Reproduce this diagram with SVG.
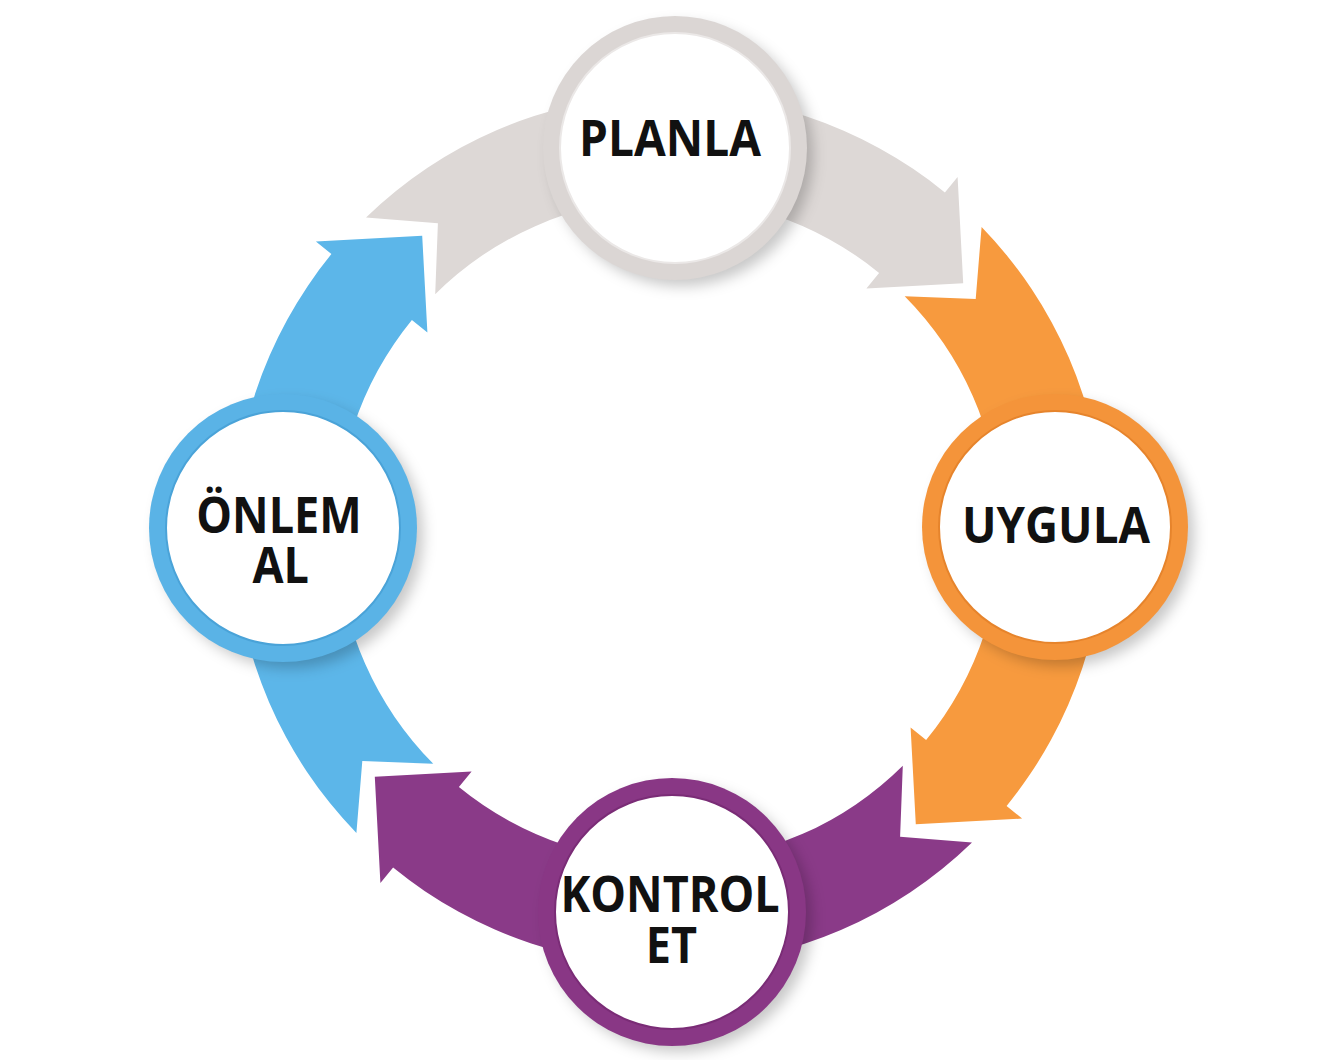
<svg xmlns="http://www.w3.org/2000/svg" width="1335" height="1060" viewBox="0 0 1335 1060">
  <defs>
    <path id="arrowShape" d="M366.0,217.4 L437.9,223.3 L435.2,294.3 A332,332 0 0 1 879.1,272.9 L866.4,288.4 L963.2,283.2 L957.6,176.9 L944.9,192.4 A436,436 0 0 0 366.0,217.4 Z"/>
    <filter id="shadow" x="-30%" y="-30%" width="160%" height="160%">
      <feGaussianBlur stdDeviation="7"/>
    </filter>
  </defs>
  <style>
    .lbl { font-family: "Open Sans", "DejaVu Sans", sans-serif; font-weight: 700; font-size: 50px; fill: #111; text-anchor: middle; }
    .shadow { fill: rgba(0,0,0,0.22); filter: url(#shadow); }
    .inner { fill: #ffffff; stroke-width: 2; }
  </style>
  <rect width="1335" height="1060" fill="#ffffff"/>

  <g id="connectors">
    <use href="#arrowShape" fill="#ddd8d6"/>
    <use href="#arrowShape" fill="#f79a3e" transform="rotate(90 669 530)"/>
    <use href="#arrowShape" fill="#8a3a88" transform="rotate(180 669 530)"/>
    <use href="#arrowShape" fill="#5cb6e9" transform="rotate(270 669 530)"/>
  </g>

  <g id="node-planla">
    <circle class="shadow" cx="682" cy="155" r="131"/>
    <circle cx="675" cy="148" r="132" fill="#dbd6d4"/>
    <circle class="inner" cx="675" cy="148" r="115" stroke="#ebe8e7"/>
    <text class="lbl" x="670" y="156" textLength="182" lengthAdjust="spacingAndGlyphs">PLANLA</text>
  </g>

  <g id="node-uygula">
    <circle class="shadow" cx="1062" cy="534" r="132"/>
    <circle cx="1055" cy="527" r="133" fill="#f4943a"/>
    <circle class="inner" cx="1055" cy="527" r="116" stroke="#e6842c"/>
    <text class="lbl" x="1056" y="543" textLength="188" lengthAdjust="spacingAndGlyphs">UYGULA</text>
  </g>

  <g id="node-kontrol">
    <circle class="shadow" cx="679" cy="919" r="133"/>
    <circle cx="672" cy="912" r="134" fill="#893785"/>
    <circle class="inner" cx="672" cy="912" r="117" stroke="#7a2c76"/>
    <text class="lbl" transform="translate(670 0) scale(0.9 1)"><tspan x="0" y="912">KONTROL</tspan><tspan x="1.5" y="963">ET</tspan></text>
  </g>

  <g id="node-onlem">
    <circle class="shadow" cx="290" cy="535" r="133"/>
    <circle cx="283" cy="528" r="134" fill="#5ab3e6"/>
    <circle class="inner" cx="283" cy="528" r="117" stroke="#4aa3d8"/>
    <text class="lbl" transform="translate(279 0) scale(0.9 1)"><tspan x="0" y="533">ÖNLEM</tspan><tspan x="2" y="583">AL</tspan></text>
  </g>
</svg>
